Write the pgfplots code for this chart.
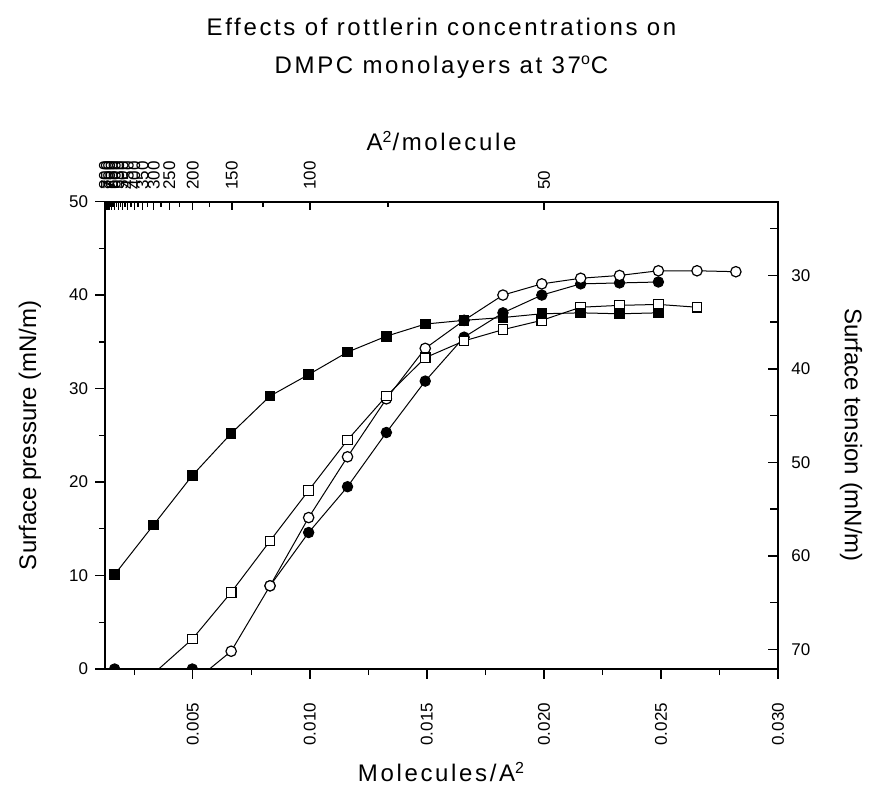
\documentclass[border=0pt]{standalone}
\usepackage{fontspec}
\setmainfont{Liberation Sans}
\newfontfamily\spacedfont[LetterSpace=11]{Liberation Sans}
\usepackage{pgfplots}
\pgfplotsset{compat=1.18}
\begin{document}
\begin{tikzpicture}
\pgfplotsset{
  common/.style={
    scale only axis, width=336.5pt, height=233.7pt,
    xmin=0.00125, xmax=0.030,
    at={(0,0)}, anchor=south west,
    scaled x ticks=false, scaled y ticks=false,
    axis line style={line width=0.9pt},
    every tick/.style={black, line width=0.7pt},
    tick label style={font=\fontsize{8.5}{10}\selectfont},
    label style={font=\fontsize{12}{14}\selectfont},
    /pgf/number format/assume math mode=true,
  },
}
% main axis: bottom + left
\begin{axis}[common,
  ymin=0, ymax=50,
  xtick pos=bottom, ytick pos=left,
  tick align=outside,
  major tick length=4.8pt, minor tick length=3pt,
  xtick={0.005,0.010,0.015,0.020,0.025,0.030},
  minor xtick={0.0025,0.0075,0.0125,0.0175,0.0225,0.0275},
  ytick={0,10,20,30,40,50},
  minor ytick={5,15,25,35,45},
  xticklabel style={rotate=90, anchor=east, inner sep=0pt,
    /pgf/number format/.cd, fixed, fixed zerofill, precision=3},
  xticklabel shift=12pt,
  yticklabel style={inner sep=0pt},
  yticklabel shift=3.5pt,
  xlabel={\spacedfont Molecules/A\textsuperscript{2}},
  ylabel={Surface pressure (mN/m)},
  xlabel style={at={(axis description cs:0.5,-0.2204)}, anchor=center},
  ylabel style={at={(axis description cs:-0.1114,0.5)}, anchor=center},
  clip mode=individual,
  clip marker paths=true,
  unbounded coords=jump,
]
% filled circles
\addplot[black, line width=0.5pt, mark=*, mark size=2.6pt, mark options={solid, fill=black, line width=0.5pt}] coordinates {
(0.00166,0) (0.00332,nan) (0.00498,0) (0.00664,nan) (0.00830,8.9)
(0.00995,14.6) (0.01161,19.5) (0.01327,25.3) (0.01493,30.8) (0.01659,35.5)
(0.01825,38.1) (0.01991,40.0) (0.02157,41.2) (0.02323,41.3) (0.02489,41.4)
};
% open circles
\addplot[black, line width=0.5pt, mark=*, mark size=2.6pt, mark options={solid, fill=white, line width=0.6pt}] coordinates {
(0.00498,-1.5) (0.00664,1.9) (0.00830,8.9) (0.00995,16.2) (0.01161,22.7)
(0.01327,28.9) (0.01493,34.3) (0.01659,37.3) (0.01825,40.0) (0.01991,41.2)
(0.02157,41.8) (0.02323,42.1) (0.02489,42.6) (0.02654,42.6) (0.02820,42.5)
};
% open squares
\addplot[black, line width=0.5pt, mark=square*, mark size=2.4pt, mark options={solid, fill=white, line width=0.6pt}] coordinates {
(0.00332,-0.5) (0.00498,3.2) (0.00664,8.2) (0.00830,13.7) (0.00995,19.1)
(0.01161,24.5) (0.01327,29.2) (0.01493,33.3) (0.01659,35.1) (0.01825,36.3)
(0.01991,37.3) (0.02157,38.7) (0.02323,38.9) (0.02489,39.0) (0.02654,38.7)
};
% filled squares
\addplot[black, line width=0.5pt, mark=square*, mark size=2.4pt, mark options={solid, fill=black, line width=0.5pt}] coordinates {
(0.00166,10.1) (0.00332,15.4) (0.00498,20.7) (0.00664,25.2) (0.00830,29.2)
(0.00995,31.5) (0.01161,33.9) (0.01327,35.6) (0.01493,36.9) (0.01659,37.3)
(0.01825,37.6) (0.01991,38.0) (0.02157,38.1) (0.02323,38.0) (0.02489,38.1)
};
\end{axis}
% right axis: surface tension
\begin{axis}[common,
  hide x axis,
  axis line style={draw=none},
  ymin=22.1, ymax=72.1, y dir=reverse,
  ytick pos=right, yticklabel pos=right,
  tick align=inside,
  major tick length=5pt, minor tick length=4pt,
  ytick={30,40,50,60,70},
  minor ytick={25,35,45,55,65},
  yticklabel style={inner sep=0pt, anchor=west},
  yticklabel shift=6.5pt,
  ylabel={Surface tension (mN/m)},
  ylabel style={at={(axis description cs:1.1085,0.5)}, anchor=center, rotate=180},
]
\addplot[draw=none] coordinates {(0.01,50)};
\end{axis}
% top axis: area per molecule
\begin{axis}[common,
  hide y axis,
  axis line style={draw=none},
  ymin=0, ymax=50,
  xtick pos=top, xticklabel pos=top,
  tick align=inside,
  major tick length=4pt, minor tick length=2.5pt,
  xtick={0.02,0.01,0.0066667,0.005,0.004,0.0033333,0.0028571,0.0025,0.0022222,0.002,0.0018182,0.0016667,0.0015385,0.0014286,0.0013333,0.00125},
  xticklabels={50,100,150,200,250,300,350,400,450,500,550,600,650,700,750,800},
  minor xtick={0.0133333,0.008,0.0057143,0.0044444,0.0036364,0.0030769,0.0026667,0.0023529,0.0021053,0.0019048,0.0017391,0.0016,0.0014815,0.0013793,0.0012903},
  xticklabel style={rotate=90, anchor=west, inner sep=0pt},
  xticklabel shift=5.8pt,
  xlabel={\spacedfont A\textsuperscript{2}/molecule},
  xlabel style={at={(axis description cs:0.5,1.1297)}, anchor=center},
]
\addplot[draw=none] coordinates {(0.01,20)};
\end{axis}
\node[font=\fontsize{12}{14}\spacedfont] at (168.25pt,321pt) {Effects of rottlerin concentrations on};
\node[font=\fontsize{12}{14}\spacedfont] at (168.25pt,301pt) {DMPC monolayers at 37\textsuperscript{o}C};
\pgfresetboundingbox
\path (-52.5pt,-58.5pt) rectangle (382.5pt,334.5pt);
\end{tikzpicture}
\end{document}
